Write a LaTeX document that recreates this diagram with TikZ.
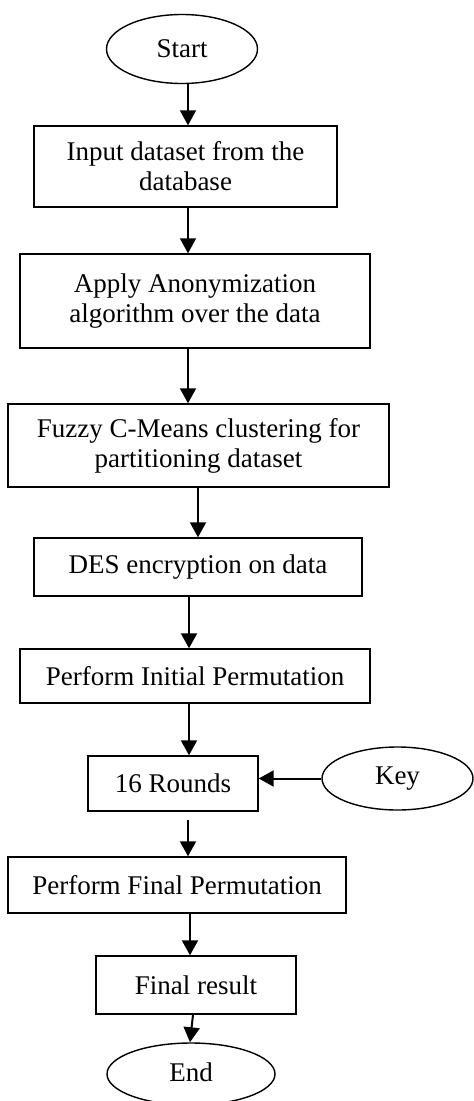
\documentclass[tikz,border=0pt]{standalone}
\usepackage{fontspec}
\setmainfont{Liberation Serif}
\usetikzlibrary{shapes.geometric,arrows.meta}
\begin{document}
\begin{tikzpicture}[x=1pt,y=-1pt,
  box/.style={draw, line width=1.4pt, rectangle, inner sep=0pt, align=center, font=\fontsize{27}{30}\selectfont},
  oval/.style={draw, line width=1.4pt, ellipse, inner sep=0pt, font=\fontsize{27}{30}\selectfont},
  arr/.style={-{Triangle[length=15pt,width=16pt]}, line width=2pt}]
\useasboundingbox (0,0) rectangle (474,1101);
\node[oval, minimum width=151pt, minimum height=69pt] (start) at (182,49) {Start};
\node[box, minimum width=303pt, minimum height=81pt] (b1) at (185.5,166.5) {Input dataset from the\\database};
\node[box, minimum width=350pt, minimum height=94pt] (b2) at (195,301) {Apply Anonymization\\algorithm over the data};
\node[box, minimum width=381pt, minimum height=83pt] (b3) at (198.5,445.5) {Fuzzy C-Means clustering for\\partitioning dataset};
\node[box, minimum width=328pt, minimum height=58pt] (b4) at (198,567) {DES encryption on data};
\node[box, minimum width=350pt, minimum height=54pt] (b5) at (195,676) {Perform Initial Permutation};
\node[box, minimum width=170pt, minimum height=55pt] (b6) at (173,783.5) {16 Rounds};
\node[oval, minimum width=151pt, minimum height=63pt] (key) at (397.5,778.5) {\raisebox{2pt}{Key}};
\node[box, minimum width=338pt, minimum height=56pt] (b7) at (177,885) {Perform Final Permutation};
\node[box, minimum width=200pt, minimum height=58pt] (b8) at (196,985) {Final result};
\node[oval, minimum width=168pt, minimum height=62pt] (end) at (191,1074) {\raisebox{3pt}{End}};
\draw[arr] (start.south -| 188,0) -- (b1.north -| 188,0);
\draw[arr] (b1.south -| 188,0) -- (b2.north -| 188,0);
\draw[arr] (b2.south -| 188,0) -- (b3.north -| 188,0);
\draw[arr] (b3.south -| 198,0) -- (b4.north -| 198,0);
\draw[arr] (b4.south -| 189,0) -- (b5.north -| 189,0);
\draw[arr] (b5.south -| 189,0) -- (b6.north -| 189,0);
\draw[arr] (key.west) -- (key.west -| b6.east);
\draw[arr, shorten <=8pt] (b6.south -| 188,0) -- (b7.north -| 188,0);
\draw[arr] (b7.south -| 190,0) -- (b8.north -| 190,0);
\draw[arr] (b8.south -| 193,0) -- (end.north -| 190,0);
\end{tikzpicture}
\end{document}
